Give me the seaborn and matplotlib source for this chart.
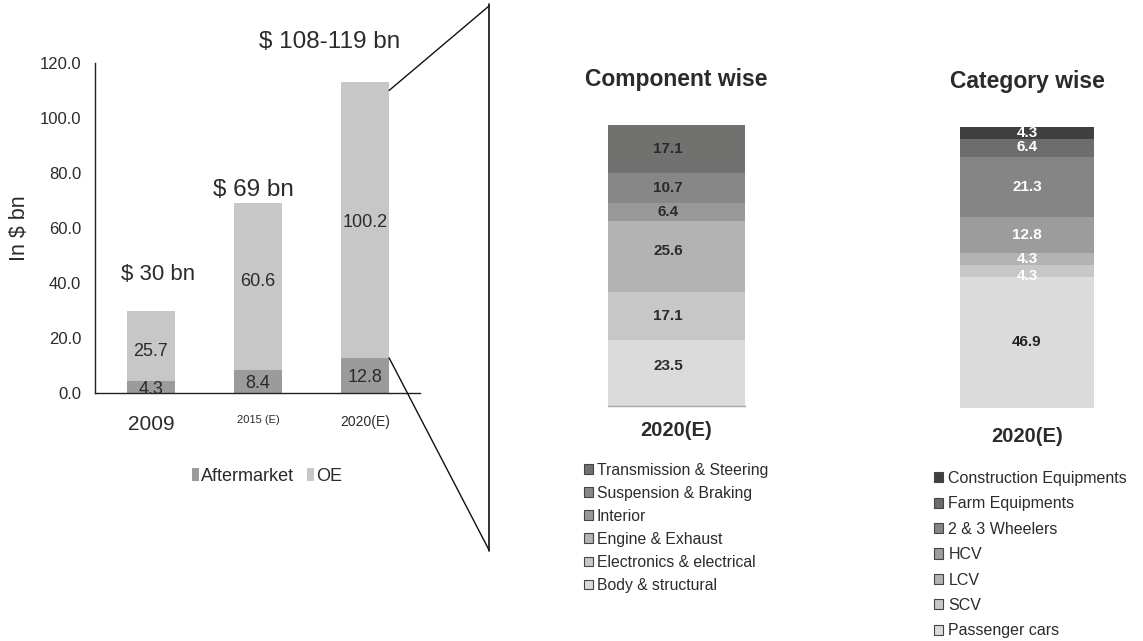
import numpy as np
import pandas as pd
import matplotlib
matplotlib.use("Agg")
import matplotlib.pyplot as plt
import seaborn as sns
from matplotlib.patches import Patch
from matplotlib.lines import Line2D
from matplotlib import font_manager

# ---------------- data ----------------
years = ["2009", "2015 (E)", "2020(E)"]
aftermarket = [4.3, 8.4, 12.8]
oe = [25.7, 60.6, 100.2]
total_labels = ["$ 30 bn", "$ 69 bn", "$ 108-119 bn"]
y_ticks = [0, 20, 40, 60, 80, 100, 120]

comp_names = ["Transmission & Steering", "Suspension & Braking", "Interior",
              "Engine & Exhaust", "Electronics & electrical", "Body & structural"]
comp_values = [17.1, 10.7, 6.4, 25.6, 17.1, 23.5]
comp_colors = ["#717170", "#878787", "#979897", "#b2b3b2", "#c6c7c6", "#dadbda"]

cat_names = ["Construction Equipments", "Farm Equipments", "2 & 3 Wheelers",
             "HCV", "LCV", "SCV", "Passenger cars"]
cat_values = [4.3, 6.4, 21.3, 12.8, 4.3, 4.3, 46.9]
cat_colors = ["#404040", "#6d6d6c", "#858585", "#9b9c9b", "#b2b3b2", "#c6c7c6", "#dadbda"]
cat_label_colors = ["white", "white", "white", "white", "white", "white", "#222222"]

# ---------------- style ----------------
sns.set_theme(style="white")
names = {f.name for f in font_manager.fontManager.ttflist}
MAIN = "Liberation Sans" if "Liberation Sans" in names else "DejaVu Sans"
NARROW = "Liberation Sans Narrow" if "Liberation Sans Narrow" in names else MAIN
plt.rcParams["font.family"] = [MAIN, "DejaVu Sans"]

W, H = 1143, 641
fig = plt.figure(figsize=(W / 100, H / 100), dpi=100)

def rect(x0, y_top, x1, y_bot):
    return [x0 / W, (H - y_bot) / H, (x1 - x0) / W, (y_bot - y_top) / H]

OE_C = "#c6c7c6"
AM_C = "#9a9b9a"
TXT = "#2b2b2b"

# ---------------- left chart ----------------
ax1 = fig.add_axes(rect(95, 63, 420, 393))
df = pd.DataFrame({"year": years, "am": aftermarket, "oe": oe})
df["total"] = df["am"] + df["oe"]
sns.barplot(data=df, x="year", y="total", color=OE_C, width=0.45, ax=ax1,
            saturation=1, edgecolor="none")
sns.barplot(data=df, x="year", y="am", color=AM_C, width=0.45, ax=ax1,
            saturation=1, edgecolor="none")
ax1.set_xlim(-0.523, 2.514)
ax1.set_ylim(0, 120)
ax1.set_yticks(y_ticks)
ax1.set_yticklabels([f"{v:.1f}" for v in y_ticks], fontsize=12, family=NARROW, color=TXT)
ax1.set_xticks(range(len(years)))
ax1.set_xticklabels(years, color=TXT)
xt_sizes = [15, 8, 10]
for lab, s in zip(ax1.get_xticklabels(), xt_sizes):
    lab.set_fontsize(s)
ax1.tick_params(axis="x", length=0, pad=16)
ax1.tick_params(axis="y", length=0, pad=10)
ax1.set_xlabel("")
ax1.set_ylabel("In $ bn", fontsize=15.5, color=TXT, labelpad=7)
sns.despine(ax=ax1)
for sp in ("left", "bottom"):
    ax1.spines[sp].set_color("#222222")
    ax1.spines[sp].set_linewidth(1.0)
ax1.set_facecolor("none")

for i in range(len(years)):
    ax1.text(i, df["am"][i] / 2 - 0.8, f"{aftermarket[i]}", ha="center", va="center",
             fontsize=13, color=TXT)
    ax1.text(i, df["am"][i] + df["oe"][i] / 2 + (-2 if i == 0 else 2 if i == 1 else -1),
             f"{oe[i]}", ha="center", va="center", fontsize=13, color=TXT)
tot_sizes = [16, 17.5, 17.5]
tot_dx = [0.065, -0.04, -0.33]
tot_dy = [26, 9.5, 29]  # points above bar top
for i in range(len(years)):
    ax1.annotate(total_labels[i], (i + tot_dx[i], df["total"][i]), xytext=(0, tot_dy[i]),
                 textcoords="offset points", ha="center", va="center",
                 fontsize=tot_sizes[i], color=TXT, annotation_clip=False)

ax1.legend(handles=[Patch(facecolor=AM_C, edgecolor="none", label="Aftermarket"),
                    Patch(facecolor=OE_C, edgecolor="none", label="OE")],
           loc="center", bbox_to_anchor=(0.529, -0.252), ncol=2, frameon=False,
           fontsize=13, handlelength=0.4, handleheight=0.75, handletextpad=0.1,
           columnspacing=0.7, labelcolor=TXT)

# zoom lines from the 2020 bar to the vertical divider
fig_tr = fig.transFigure.inverted()
bar_r = 2 + 0.45 / 2
p_top = fig_tr.transform(ax1.transData.transform((bar_r, df["total"][2] - 3)))
p_bot = fig_tr.transform(ax1.transData.transform((bar_r, df["am"][2])))
vx = 489 / W
fig.add_artist(Line2D([p_top[0], vx], [p_top[1], 1 - 6 / H], color="#111111", lw=1.0))
fig.add_artist(Line2D([p_bot[0], vx], [p_bot[1], 1 - 550 / H], color="#111111", lw=1.0))
fig.add_artist(Line2D([vx, vx], [1 - 4 / H, 1 - 551 / H], color="#111111", lw=1.2))

# ---------------- stacked single-bar helper ----------------
def stacked(ax, values, colors, label_colors, label_dx, total, label_dy=None):
    cum = np.cumsum(values[::-1])[::-1]  # top-down cumulative heights
    if label_dy is None:
        label_dy = [0] * len(values)
    for c, col in zip(cum, colors):
        sns.barplot(x=["2020(E)"], y=[c], color=col, width=1.0, ax=ax,
                    saturation=1, edgecolor="none")
    for v, c, lc, dy in zip(values, cum, label_colors, label_dy):
        ax.text(label_dx, c - v / 2 + dy, f"{v}", ha="center", va="center",
                fontsize=11, family=NARROW, fontweight="bold", color=lc)
    ax.set_xlim(-0.5, 0.5)
    ax.set_ylim(0, total)
    ax.set_yticks([])
    ax.set_ylabel("")
    ax.set_xlabel("")
    ax.tick_params(axis="x", length=0)
    ax.set_facecolor("none")

# component wise
ax2 = fig.add_axes(rect(608, 125, 745, 406))
stacked(ax2, comp_values, comp_colors, [TXT] * 6, -0.06, sum(comp_values),
        [0, 0, 0, 2, 0, 2.5])
ax2.set_title("Component wise", fontsize=16.5, fontweight="bold", color=TXT, pad=28)
ax2.set_xticks([0])
ax2.set_xticklabels(["2020(E)"], fontsize=14.5, fontweight="bold", color=TXT)
ax2.tick_params(axis="x", pad=11)
sns.despine(ax=ax2, left=True)
ax2.spines["bottom"].set_color("#aaaaaa")
ax2.spines["bottom"].set_linewidth(1.0)
ax2.legend(handles=[Patch(facecolor=c, edgecolor="#444444", linewidth=0.8, label=n)
                    for n, c in zip(comp_names, comp_colors)],
           loc="upper left", bbox_to_anchor=(584 / W, 1 - 463 / H),
           bbox_transform=fig.transFigure, frameon=False, fontsize=11.3,
           handlelength=0.55, handleheight=0.6, handletextpad=0.25,
           labelspacing=0.51, borderaxespad=0, borderpad=0, labelcolor=TXT)

# category wise
ax3 = fig.add_axes(rect(960, 127, 1094, 408))
stacked(ax3, cat_values, cat_colors, cat_label_colors, 0.0, sum(cat_values),
        [0, 0.5, 0, 0, 0, -2.1, 0])
ax3.set_title("Category wise", fontsize=16.5, fontweight="bold", color=TXT, pad=28)
ax3.set_xticks([0])
ax3.set_xticklabels(["2020(E)"], fontsize=14.5, fontweight="bold", color=TXT)
ax3.tick_params(axis="x", pad=14)
sns.despine(ax=ax3, left=True, bottom=True)
ax3.legend(handles=[Patch(facecolor=c, edgecolor="#444444", linewidth=0.8, label=n)
                    for n, c in zip(cat_names, cat_colors)],
           loc="upper left", bbox_to_anchor=(934 / W, 1 - 471 / H),
           bbox_transform=fig.transFigure, frameon=False, fontsize=11.5,
           handlelength=0.55, handleheight=0.6, handletextpad=0.35,
           labelspacing=0.65, borderaxespad=0, borderpad=0, labelcolor=TXT)

fig.savefig("out.png", dpi=100, facecolor="white")
